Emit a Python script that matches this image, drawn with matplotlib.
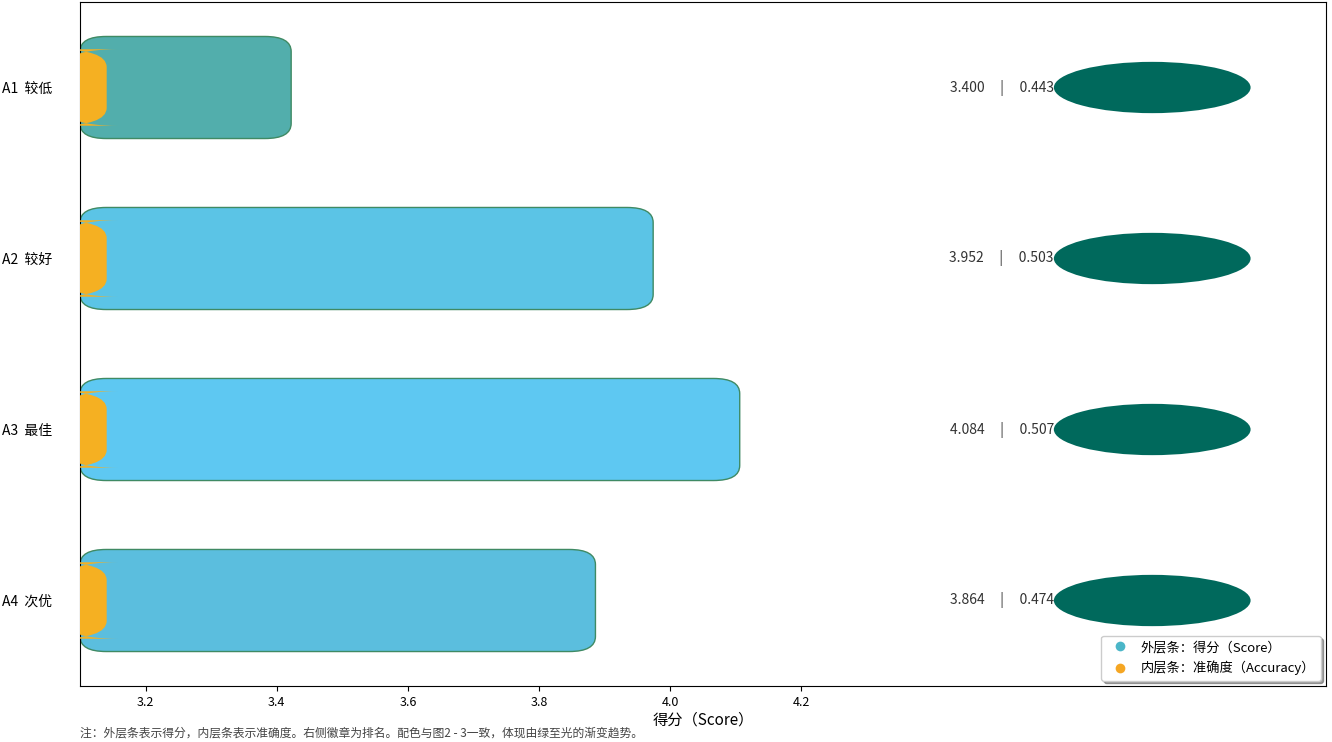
import matplotlib
matplotlib.use("Agg")
import matplotlib.pyplot as plt
from matplotlib.patches import FancyBboxPatch, Ellipse
from matplotlib.lines import Line2D

plt.rcParams['font.family'] = ['Noto Sans CJK SC', 'DejaVu Sans']
plt.rcParams['axes.unicode_minus'] = False

# ---- data ----
labels = ["A1  较低", "A2  较好", "A3  最佳", "A4  次优"]
scores = [3.400, 3.952, 4.084, 3.864]
accuracy = [0.443, 0.503, 0.507, 0.474]
outer_colors = ["#52AEAC", "#5BC4E6", "#5EC8F2", "#5BBEDE"]
inner_color = "#F5B022"
badge_color = "#00695C"
xticks = [3.2, 3.4, 3.6, 3.8, 4.0, 4.2]

xmin, xmax = 3.1, 5.0
pad = 0.022
aspect = 2.2

fig = plt.figure(figsize=(13.32, 7.42), dpi=100)
ax = fig.add_axes([80/1332, 1-686/742, (1326-80)/1332, (686-2)/742])

for i, (s, a) in enumerate(zip(scores, accuracy)):
    # outer bar: score
    h = 0.5
    ob = FancyBboxPatch((xmin + pad, i - h/2), s - xmin - pad, h,
                        boxstyle=f"round,pad={pad},rounding_size=0.04",
                        mutation_aspect=aspect,
                        facecolor=outer_colors[i], edgecolor="#3F8A64",
                        linewidth=1.0, zorder=2)
    ax.add_patch(ob)
    # inner bar: accuracy
    hi = 0.39
    ib = FancyBboxPatch((xmin, i - hi/2), 0.0187, hi,
                        boxstyle=f"round,pad={pad},rounding_size=0.08",
                        mutation_aspect=1.3,
                        facecolor=inner_color, edgecolor="none",
                        linewidth=0, zorder=3)
    ax.add_patch(ib)
    # badge
    bx = 4.735
    ax.add_patch(Ellipse((bx, i), 0.3, 0.3, facecolor=badge_color,
                         edgecolor="none", zorder=3))
    ax.text(bx - 0.15, i, f"{s:.3f}     |     {a:.3f}", ha="right", va="center",
            fontsize=10, color="#333333", zorder=4)

ax.set_xlim(xmin, xmax)
ax.set_ylim(3.5, -0.5)
ax.set_yticks(range(len(labels)))
ax.set_yticklabels(labels, fontsize=10)
ax.tick_params(axis="y", length=0, pad=20)
ax.set_xticks(xticks)
ax.set_xticklabels([f"{v:.1f}" for v in xticks], fontsize=9)
ax.set_xlabel("得分（Score）", fontsize=11, labelpad=2)

handles = [Line2D([], [], marker="o", linestyle="none", markersize=7,
                  markerfacecolor="#4BB6C8", markeredgecolor="none"),
           Line2D([], [], marker="o", linestyle="none", markersize=7,
                  markerfacecolor="#F5A623", markeredgecolor="none")]
ax.legend(handles, ["外层条：得分（Score）", "内层条：准确度（Accuracy）"],
          loc="lower right", fontsize=9.5, frameon=True, fancybox=True,
          shadow=True, handletextpad=0.6, borderaxespad=0.4)

fig.text(80/1332, 1-733/742, "注：外层条表示得分，内层条表示准确度。右侧徽章为排名。配色与图2 - 3一致，体现由绿至光的渐变趋势。",
         fontsize=8.5, color="#444444", va="center", ha="left")

fig.savefig("out.png", dpi=100)
